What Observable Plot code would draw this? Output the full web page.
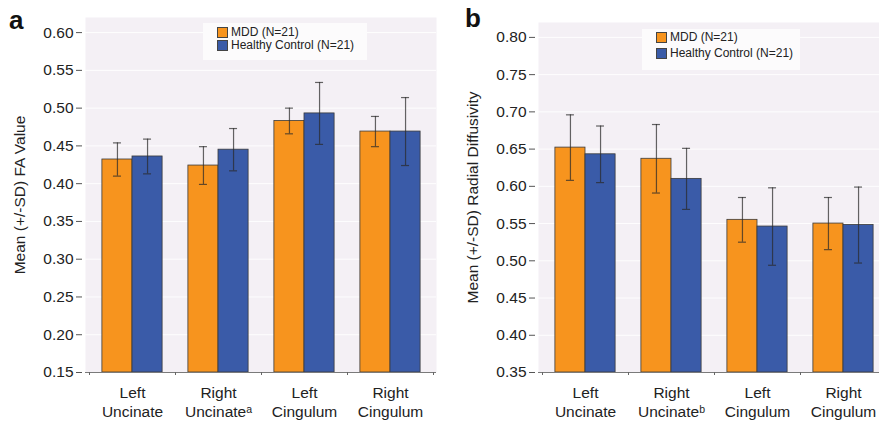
<!DOCTYPE html>
<html>
<head>
<meta charset="utf-8">
<script src="https://cdn.jsdelivr.net/npm/d3@7"></script>
<script src="https://cdn.jsdelivr.net/npm/@observablehq/plot@0.6"></script>
<style>
  html, body { margin: 0; padding: 0; background: #fff; }
  #wrap { position: relative; width: 879px; height: 421px; overflow: hidden; font-family: "Liberation Sans", Arial, Helvetica, sans-serif; color: #222; }
  .panel { position: absolute; top: 0; }
  .panel svg { max-width: none !important; }
  .tag { position: absolute; font-weight: bold; font-size: 26px; line-height: 1; color: #111; }
  .legend { position: absolute; background: #fcfbfc; font-size: 12px; color: #222; }
  .legend .row { position: absolute; white-space: nowrap; }
  .legend .sw { position: absolute; width: 11px; height: 11px; border: 0.8px solid #444; box-sizing: border-box; }
</style>
</head>
<body>
<div id="wrap"></div>
<script>
// ---- data ----
const categories = ["LU", "RU", "LC", "RC"];
const tickLabelsA = ["Left\nUncinate", "Right\nUncinateᵃ", "Left\nCingulum", "Right\nCingulum"];
const tickLabelsB = ["Left\nUncinate", "Right\nUncinateᵇ", "Left\nCingulum", "Right\nCingulum"];
const groups = ["MDD (N=21)", "Healthy Control (N=21)"];
const colors = ["#F7941E", "#3A5BA8"];

const faMDD   = [0.432, 0.424, 0.483, 0.469];
const faMDDsd = [0.022, 0.025, 0.017, 0.020];
const faHC    = [0.436, 0.445, 0.493, 0.469];
const faHCsd  = [0.023, 0.028, 0.041, 0.045];

const rdMDD   = [0.652, 0.637, 0.555, 0.550];
const rdMDDsd = [0.044, 0.046, 0.030, 0.035];
const rdHC    = [0.643, 0.610, 0.546, 0.548];
const rdHCsd  = [0.038, 0.041, 0.052, 0.051];

const yTicksA = [0.15, 0.20, 0.25, 0.30, 0.35, 0.40, 0.45, 0.50, 0.55, 0.60];
const yTicksB = [0.35, 0.40, 0.45, 0.50, 0.55, 0.60, 0.65, 0.70, 0.75, 0.80];

const labelA = "Mean (+/-SD) FA Value";
const labelB = "Mean (+/-SD) Radial Diffusivity";

// ---- drawing ----
function panel(o) {
  const inset = 3.5;
  const bw = (o.width - o.marginLeft - o.marginRight - 2 * inset) / categories.length;
  const barW = bw * 0.35;
  const off = (bw - 2 * barW) / 2;
  const cap = 4;
  const ymin = o.ydomain[0];
  const rows = (v, s) => categories.map((c, i) => ({cat: c, v: v[i], lo: v[i] - s[i], hi: v[i] + s[i]}));
  const m = rows(o.mdd, o.mddSd);
  const h = rows(o.hc, o.hcSd);
  const cM = off + barW / 2, cH = off + barW * 1.5;
  const fmt = d => o.labels[categories.indexOf(d)];
  const barStyle = {stroke: "#3a3a3a", strokeWidth: 0.8};
  const errStyle = {stroke: "#2a2a2a", strokeOpacity: 0.72, strokeWidth: 1.2};
  return Plot.plot({
    width: o.width, height: 421,
    marginLeft: o.marginLeft, marginRight: o.marginRight, marginTop: o.marginTop, marginBottom: 49,
    style: {fontSize: "15.5px", fontFamily: "'Liberation Sans', Arial, Helvetica, sans-serif", color: "#222", background: "transparent", overflow: "visible", maxWidth: "none"},
    x: {domain: categories, padding: 0, insetLeft: inset, insetRight: inset, axis: null},
    y: {domain: o.ydomain, axis: null},
    marks: [
      Plot.frame({fill: "#F4F0F5"}),
      Plot.gridY(o.yTicks, {stroke: "#ffffff", strokeOpacity: 0.9, strokeWidth: 1}),
      Plot.barY(m, {x: "cat", y1: ymin, y2: "v", fill: colors[0], ...barStyle, insetLeft: off, insetRight: bw - off - barW}),
      Plot.barY(h, {x: "cat", y1: ymin, y2: "v", fill: colors[1], ...barStyle, insetLeft: off + barW, insetRight: off}),
      Plot.ruleX(m, {x: "cat", y1: "lo", y2: "hi", dx: cM - bw / 2, ...errStyle}),
      Plot.ruleX(h, {x: "cat", y1: "lo", y2: "hi", dx: cH - bw / 2, ...errStyle}),
      Plot.tickY(m, {x: "cat", y: "hi", insetLeft: cM - cap, insetRight: bw - cM - cap, ...errStyle}),
      Plot.tickY(m, {x: "cat", y: "lo", insetLeft: cM - cap, insetRight: bw - cM - cap, ...errStyle}),
      Plot.tickY(h, {x: "cat", y: "hi", insetLeft: cH - cap, insetRight: bw - cH - cap, ...errStyle}),
      Plot.tickY(h, {x: "cat", y: "lo", insetLeft: cH - cap, insetRight: bw - cH - cap, ...errStyle}),
      Plot.ruleY([ymin], {stroke: "#7a7a7a", strokeWidth: 1}),
      Plot.axisY(o.yTicks, {tickSize: 6, tickPadding: 3, dx: -3, tickFormat: d3.format(".2f"), stroke: "#555", fontSize: 15.5,
        label: o.ylabel, labelAnchor: "center", labelArrow: "none", labelOffset: o.labelOffset}),
      Plot.axisX(categories, {tickSize: 0, tickPadding: 12, tickFormat: fmt, lineHeight: 1.22, label: null, fontSize: 15.5}),
      Plot.axisX(categories, {tickSize: 3, dx: -bw / 2, tickFormat: () => "", label: null, stroke: "#666"}),
      Plot.axisX(categories.slice(-1), {tickSize: 3, dx: bw / 2, tickFormat: () => "", label: null, stroke: "#666"})
    ]
  });
}

function legend(box) {
  const el = document.createElement("div");
  el.className = "legend";
  Object.assign(el.style, {left: box.left + "px", top: box.top + "px", width: box.w + "px", height: box.h + "px"});
  groups.forEach((g, i) => {
    const sw = document.createElement("div");
    sw.className = "sw";
    Object.assign(sw.style, {left: box.swx + "px", top: (box.swy + i * box.step) + "px", background: colors[i]});
    el.appendChild(sw);
    const t = document.createElement("div");
    t.className = "row";
    t.textContent = g;
    Object.assign(t.style, {left: (box.swx + 14) + "px", top: (box.swy - 2 + i * box.step) + "px"});
    el.appendChild(t);
  });
  return el;
}

const wrap = document.getElementById("wrap");

const pa = document.createElement("div");
pa.className = "panel"; pa.style.left = "0px"; pa.style.width = "440px";
pa.appendChild(panel({width: 440, marginLeft: 85, marginRight: 4, marginTop: 17, ydomain: [0.15, 0.62],
  yTicks: yTicksA, mdd: faMDD, mddSd: faMDDsd, hc: faHC, hcSd: faHCsd, labels: tickLabelsA, ylabel: labelA, labelOffset: 72}));
wrap.appendChild(pa);

const pb = document.createElement("div");
pb.className = "panel"; pb.style.left = "440px"; pb.style.width = "449px";
pb.appendChild(panel({width: 449, marginLeft: 98, marginRight: 0, marginTop: 22, ydomain: [0.35, 0.82],
  yTicks: yTicksB, mdd: rdMDD, mddSd: rdMDDsd, hc: rdHC, hcSd: rdHCsd, labels: tickLabelsB, ylabel: labelB, labelOffset: 72}));
wrap.appendChild(pb);

wrap.appendChild(legend({left: 203, top: 23, w: 164, h: 37, swx: 14, swy: 4, step: 13}));
wrap.appendChild(legend({left: 642, top: 29, w: 158, h: 41, swx: 14, swy: 3, step: 16}));

const ta = document.createElement("div"); ta.className = "tag"; ta.textContent = "a";
Object.assign(ta.style, {left: "9px", top: "7px"}); wrap.appendChild(ta);
const tb = document.createElement("div"); tb.className = "tag"; tb.textContent = "b";
Object.assign(tb.style, {left: "465px", top: "5px"}); wrap.appendChild(tb);
</script>
</body>
</html>
